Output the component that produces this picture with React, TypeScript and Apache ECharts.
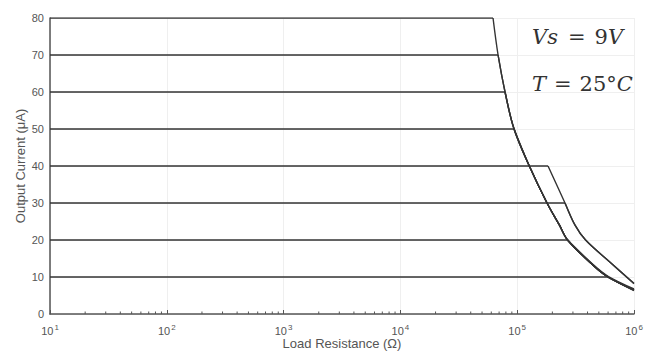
import React, { useEffect, useRef } from "react";
import * as echarts from "echarts";

// Load resistance (Ω) and output current (µA)
// Flat parts: [start, knee]
const flat80: [number, number][] = [[10, 80], [62100, 80]];
const flat70: [number, number][] = [[10, 70], [68600, 70]];
const flat60: [number, number][] = [[10, 60], [78700, 60]];
const flat50: [number, number][] = [[10, 50], [94000, 50]];
const flat40: [number, number][] = [[10, 40], [183600, 40]];
const flat30: [number, number][] = [[10, 30], [256600, 30]];
const flat20: [number, number][] = [[10, 20], [270000, 20]];
const flat10: [number, number][] = [[10, 10], [590000, 10]];

// Falling parts after each knee
const fall80: [number, number][] = [[62100, 80], [68600, 70], [78700, 60], [94000, 50], [127000, 40], [180000, 30], [230000, 24], [270000, 20], [446000, 13.2], [600000, 10], [1000000, 6.5]];
const fall70: [number, number][] = [[68600, 70], [78700, 60], [94000, 50], [127000, 40], [180000, 30], [230000, 24], [270000, 20], [446000, 13.2], [600000, 10], [1000000, 6.5]];
const fall60: [number, number][] = [[78700, 60], [94000, 50], [127000, 40], [180000, 30], [230000, 24], [270000, 20], [446000, 13.2], [600000, 10], [1000000, 6.4]];
const fall50: [number, number][] = [[94000, 50], [127000, 40], [180000, 30], [230000, 24], [270000, 20], [446000, 13.2], [600000, 10], [1000000, 6.5]];
const fall40: [number, number][] = [[183600, 40], [256600, 30], [312700, 24], [385000, 20], [624000, 14], [1000000, 8.3]];
const fall30: [number, number][] = [[256600, 30], [312700, 24], [385000, 20], [624000, 14], [1000000, 8.2]];
const fall20: [number, number][] = [[270000, 20], [446000, 13.4], [600000, 10.2], [1000000, 6.8]];
const fall10: [number, number][] = [[590000, 10], [1000000, 6.3]];

const flats = [flat80, flat70, flat60, flat50, flat40, flat30, flat20, flat10];
const falls = [fall80, fall70, fall60, fall50, fall40, fall30, fall20, fall10];

const yTicks = [0, 10, 20, 30, 40, 50, 60, 70, 80];
const decades = [10, 100, 1000, 10000, 100000];
const minorMultipliers = [2, 3, 4, 5, 6, 7, 8, 9];

export default function App() {
  const ref = useRef<HTMLDivElement>(null);
  useEffect(() => {
    if (!ref.current) return;
    const chart = echarts.init(ref.current, null, { renderer: "svg" });
    const minorTicks: [number, number][] = [];
    decades.forEach((d) => minorMultipliers.forEach((m) => minorTicks.push([d * m, 0])));

    const lineStyle = { color: "#333", width: 1.4 };
    const flatSeries = flats.map((c) => ({
      type: "line", data: c, symbol: "none", showSymbol: false, lineStyle, silent: true, z: 3,
    }));
    const fallSeries = falls.map((c) => ({
      type: "line", data: c, symbol: "none", showSymbol: false, lineStyle, silent: true, z: 3,
      smooth: 0.35,
    }));

    const mathI = { fontSize: 21, fontStyle: "italic", fontFamily: "DejaVu Serif", fill: "#333" };
    const mathN = { fontSize: 21, fontFamily: "DejaVu Serif", fill: "#333" };

    chart.setOption({
      animation: false,
      backgroundColor: "#fff",
      grid: { left: 50, right: 12, top: 18, bottom: 39, containLabel: false, outerBoundsMode: "none" },
      xAxis: {
        type: "log",
        logBase: 10,
        min: 10,
        max: 1000000,
        name: "Load Resistance (Ω)",
        nameLocation: "middle",
        nameMoveOverlap: false,
        nameGap: 23,
        nameTextStyle: { color: "#555", fontSize: 13, fontFamily: "Liberation Sans" },
        axisLine: { show: true, lineStyle: { color: "#555", width: 1.5 } },
        axisTick: { show: true, inside: true, length: 4, lineStyle: { color: "#555" } },
        splitLine: { show: true, lineStyle: { color: "#efefef", width: 1 } },
        minorTick: { show: false },
        axisLabel: {
          color: "#555",
          fontSize: 11,
          fontFamily: "Liberation Sans",
          margin: 9,
          formatter: (v: number) => `10{sup|${Math.round(Math.log10(v))}}`,
          rich: {
            sup: { fontSize: 8, color: "#555", fontFamily: "Liberation Sans", verticalAlign: "bottom", padding: [0, 0, 7, 1] },
          },
        },
      },
      yAxis: {
        type: "value",
        min: 0,
        max: 80,
        interval: 10,
        name: "Output Current (μA)",
        nameLocation: "middle",
        nameMoveOverlap: false,
        nameGap: 23,
        nameTextStyle: { color: "#555", fontSize: 13, fontFamily: "Liberation Sans" },
        axisLine: { show: true, lineStyle: { color: "#555", width: 1.5 } },
        axisTick: { show: false },
        splitLine: { show: true, lineStyle: { color: "#efefef", width: 1 } },
        axisLabel: {
          color: "#555",
          fontSize: 11,
          fontFamily: "Liberation Sans",
          margin: 6,
          customValues: yTicks,
        },
      },
      graphic: [
        {
          type: "text",
          left: 532,
          top: 26,
          style: {
            text: "{i|Vs}{e|=}{n|9}{i|V}",
            rich: { i: mathI, n: mathN, e: { ...mathN, padding: [0, 9, 0, 10] } },
          },
        },
        {
          type: "text",
          left: 532,
          top: 73,
          style: {
            text: "{i|T}{e|=}{n|25°}{i|C}",
            rich: { i: mathI, n: mathN, e: { ...mathN, padding: [0, 8, 0, 8] } },
          },
        },
      ],
      series: [
        ...flatSeries,
        ...fallSeries,
        {
          type: "custom",
          data: minorTicks,
          silent: true,
          z: 4,
          renderItem: (params: any, api: any) => {
            const p = api.coord([api.value(0), 0]);
            return {
              type: "line",
              shape: { x1: p[0], y1: p[1], x2: p[0], y2: p[1] - 2.5 },
              style: { stroke: "#555", lineWidth: 1 },
            };
          },
        },
      ],
    });
    return () => chart.dispose();
  }, []);
  return <div ref={ref} style={{ position: "fixed", left: 0, top: 0, width: 646, height: 353 }} />;
}
